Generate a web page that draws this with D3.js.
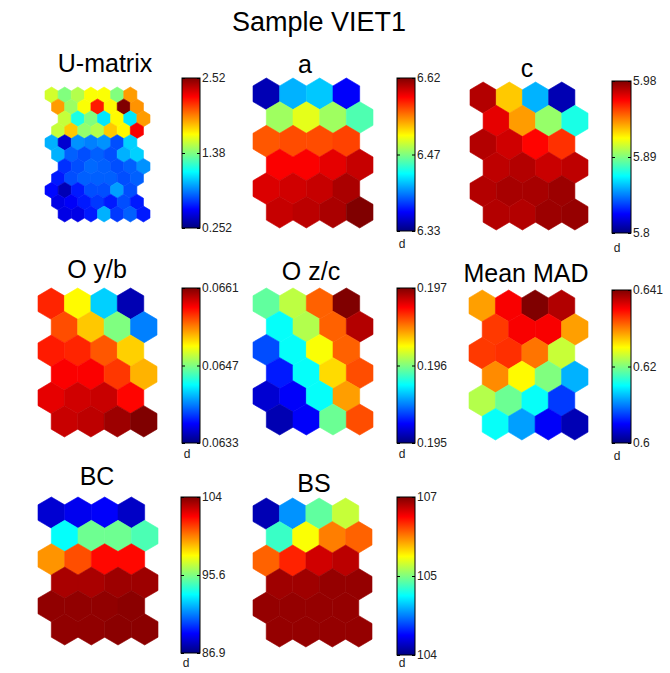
<!DOCTYPE html>
<html>
<head>
<meta charset="utf-8">
<script src="https://d3js.org/d3.v7.min.js"></script>
<style>
body { margin: 0; background: #fff; }
svg { font-family: Arial, "Liberation Sans", sans-serif; }
</style>
</head>
<body>
<svg id="chart" width="670" height="673"></svg>
<script>
var mainTitle = "Sample VIET1";
var titles = ["U-matrix", "a", "c", "O y/b", "O z/c", "Mean MAD", "BC", "BS"];

// U-matrix: 11 rows x 7 columns (hexaU lattice)
var uMatrix = [
  [1.57, 1.39, 1.50, 1.66, 1.66, 1.39, 1.89],
  [1.89, 1.45, 1.66, 2.18, 1.68, 2.52, 1.91],
  [1.54, 1.16, 1.39, 1.05, 1.68, 1.05, 1.89],
  [1.54, 1.79, 1.43, 1.50, 1.79, 1.68, 2.25],
  [0.93, 0.43, 0.86, 0.82, 0.86, 0.71, 1.00],
  [0.93, 0.75, 0.71, 0.75, 0.71, 0.93, 1.00],
  [0.64, 0.71, 0.77, 0.75, 0.71, 0.75, 0.86],
  [0.59, 0.71, 0.75, 0.75, 0.75, 0.71, 0.75],
  [0.55, 0.37, 0.59, 0.71, 0.71, 0.89, 0.71],
  [0.48, 0.52, 0.59, 0.66, 0.59, 0.71, 0.59],
  [0.48, 0.48, 0.59, 0.93, 0.66, 0.75, 0.59]
];

// component planes: 6 rows x 4 columns
var aValues = [
  [6.345, 6.417, 6.423, 6.365],
  [6.484, 6.504, 6.484, 6.461],
  [6.559, 6.562, 6.562, 6.565],
  [6.585, 6.585, 6.591, 6.600],
  [6.594, 6.597, 6.600, 6.608],
  [6.600, 6.603, 6.608, 6.620]
];
var cValues = [
  [5.971, 5.922, 5.854, 5.809],
  [5.962, 5.930, 5.894, 5.872],
  [5.971, 5.966, 5.957, 5.949],
  [5.969, 5.971, 5.967, 5.969],
  [5.971, 5.973, 5.973, 5.975],
  [5.971, 5.971, 5.975, 5.976]
];
var oybValues = [
  [0.06565, 0.06506, 0.06422, 0.06344],
  [0.06554, 0.06520, 0.06470, 0.06400],
  [0.06568, 0.06565, 0.06551, 0.06518],
  [0.06576, 0.06576, 0.06560, 0.06526],
  [0.06582, 0.06588, 0.06590, 0.06574],
  [0.06590, 0.06593, 0.06602, 0.06610]
];
var ozcValues = [
  [0.19594, 0.19612, 0.19656, 0.19700],
  [0.19576, 0.19610, 0.19656, 0.19690],
  [0.19540, 0.19576, 0.19624, 0.19656],
  [0.19530, 0.19576, 0.19632, 0.19660],
  [0.19516, 0.19524, 0.19576, 0.19644],
  [0.19510, 0.19524, 0.19596, 0.19660]
];
var madValues = [
  [0.6295, 0.6361, 0.6410, 0.6390],
  [0.6336, 0.6361, 0.6361, 0.6295],
  [0.6336, 0.6340, 0.6312, 0.6234],
  [0.6303, 0.6258, 0.6205, 0.6123],
  [0.6226, 0.6197, 0.6156, 0.6074],
  [0.6156, 0.6115, 0.6049, 0.6021]
];
var bcValues = [
  [88.3, 88.8, 89.0, 88.1],
  [93.5, 95.3, 95.3, 94.7],
  [99.6, 100.8, 102.0, 102.0],
  [103.6, 103.6, 103.8, 103.8],
  [104.0, 104.0, 104.0, 104.1],
  [104.0, 104.0, 104.1, 104.1]
];
var bsValues = [
  [103.85, 104.48, 105.06, 105.35],
  [104.95, 105.50, 105.88, 105.96],
  [105.96, 106.14, 106.37, 106.43],
  [106.51, 106.51, 106.54, 106.54],
  [106.54, 106.54, 106.54, 106.54],
  [106.54, 106.54, 106.54, 106.54]
];

var planeValues = [uMatrix, aValues, cValues, oybValues, ozcValues, madValues, bcValues, bsValues];

// colorbar ranges [min, max] and the labels printed (bottom, middle, top)
var ranges = [[0.252, 2.52], [6.33, 6.62], [5.80, 5.98], [0.0633, 0.0661],
              [0.195, 0.197], [0.600, 0.641], [86.9, 104.3], [103.7, 106.6]];
var tickLabels = [
  ["0.252", "1.38", "2.52"], ["6.33", "6.47", "6.62"], ["5.8", "5.89", "5.98"],
  ["0.0633", "0.0647", "0.0661"], ["0.195", "0.196", "0.197"], ["0.6", "0.62", "0.641"],
  ["86.9", "95.6", "104"], ["104", "105", "107"]
];

// panel positions (grid box, colorbar box, title, "d" label)
var layout = [
  {gx: 45,  gy: 87,  gw: 105, gh: 135, cx: 182, cy: 78,  cw: 18, ch: 150, tx: 105, ty: 72,  dy: null},
  {gx: 253, gy: 78,  gw: 120, gh: 150, cx: 397, cy: 78,  cw: 18, ch: 153, tx: 305, ty: 73,  dy: 248},
  {gx: 470, gy: 82,  gw: 118, gh: 148, cx: 612, cy: 81,  cw: 19, ch: 152, tx: 527, ty: 77,  dy: 252},
  {gx: 38,  gy: 288, gw: 119, gh: 149, cx: 182, cy: 288, cw: 18, ch: 155, tx: 97,  ty: 278, dy: 458},
  {gx: 253, gy: 288, gw: 120, gh: 147, cx: 397, cy: 288, cw: 18, ch: 155, tx: 311, ty: 280, dy: 458},
  {gx: 469, gy: 290, gw: 119, gh: 150, cx: 612, cy: 290, cw: 19, ch: 153, tx: 526, ty: 282, dy: 460},
  {gx: 38,  gy: 497, gw: 120, gh: 148, cx: 181, cy: 497, cw: 19, ch: 156, tx: 97,  ty: 485, dy: 667},
  {gx: 253, gy: 498, gw: 119, gh: 149, cx: 397, cy: 497, cw: 18, ch: 158, tx: 314, ty: 492, dy: 667}
];

// matlab jet colormap
function jet(t) {
  var r = Math.max(0, Math.min(1, 1.5 - Math.abs(4 * t - 3)));
  var g = Math.max(0, Math.min(1, 1.5 - Math.abs(4 * t - 2)));
  var b = Math.max(0, Math.min(1, 1.5 - Math.abs(4 * t - 1)));
  return d3.rgb(r * 255, g * 255, b * 255) + "";
}

var svg = d3.select("#chart");
var defs = svg.append("defs");

svg.append("text")
  .attr("x", 319)
  .attr("y", 31)
  .attr("text-anchor", "middle")
  .style("font-size", "27px")
  .attr("fill", "#000")
  .text(mainTitle);

var hexR = 1 / Math.sqrt(3);
var rowH = Math.sqrt(0.75);
var hexPts = [[0, -hexR], [0.5, -hexR / 2], [0.5, hexR / 2], [0, hexR], [-0.5, hexR / 2], [-0.5, -hexR / 2]];

planeValues.forEach(function(vals, p) {
  var L = layout[p];
  var isU = (p === 0);
  var nRows = vals.length, nCols = vals[0].length;
  var lo = ranges[p][0], hi = ranges[p][1];

  // row shift: normal hexa lattice, or the U-matrix lattice
  var shift = function(r) { return isU ? [0, 0.5, 1, 0.5][r % 4] : (r % 2) * 0.5; };
  var xMax = nCols - 0.5 + (isU ? 1 : 0.5);

  var x = d3.scaleLinear().domain([-0.5, xMax]).range([L.gx, L.gx + L.gw]);
  var y = d3.scaleLinear().domain([-hexR, (nRows - 1) * rowH + hexR]).range([L.gy, L.gy + L.gh]);
  var color = d3.scaleSequential(jet).domain([lo, hi]);

  var cells = [];
  vals.forEach(function(row, r) {
    row.forEach(function(v, c) { cells.push({r: r, c: c, v: v}); });
  });

  var g = svg.append("g");
  g.selectAll("polygon")
    .data(cells)
    .enter()
    .append("polygon")
    .attr("points", function(d) {
      var cx0 = d.c + shift(d.r), cy0 = d.r * rowH;
      return hexPts.map(function(q) { return x(cx0 + q[0]) + "," + y(cy0 + q[1]); }).join(" ");
    })
    .attr("fill", function(d) { return color(d.v); })
    .attr("stroke", function(d) { return color(d.v); })
    .attr("stroke-width", 0.6);

  // title
  svg.append("text")
    .attr("x", L.tx)
    .attr("y", L.ty)
    .attr("text-anchor", "middle")
    .style("font-size", "25px")
    .attr("fill", "#000")
    .text(titles[p]);

  // colorbar
  var gid = "grad" + p;
  var grad = defs.append("linearGradient")
    .attr("id", gid)
    .attr("x1", 0).attr("y1", 1).attr("x2", 0).attr("y2", 0);
  d3.range(0, 1.0001, 1 / 64).forEach(function(t) {
    grad.append("stop").attr("offset", t).attr("stop-color", jet(t));
  });

  svg.append("rect")
    .attr("x", L.cx)
    .attr("y", L.cy)
    .attr("width", L.cw)
    .attr("height", L.ch)
    .attr("fill", "url(#" + gid + ")")
    .attr("stroke", "#000")
    .attr("stroke-width", 1);

  var cy = d3.scaleLinear().domain([lo, hi]).range([L.cy + L.ch, L.cy]);
  var tv = [lo, (lo + hi) / 2, hi];

  var axR = svg.append("g")
    .attr("transform", "translate(" + (L.cx + L.cw) + ",0)")
    .call(d3.axisRight(cy).tickValues(tv).tickSize(-3).tickPadding(2)
      .tickFormat(function(d, i) { return tickLabels[p][i]; }));
  axR.select(".domain").remove();
  axR.selectAll("text").style("font-size", "12px").style("font-family", "Arial, 'Liberation Sans', sans-serif").attr("fill", "#222");
  axR.selectAll("line").attr("stroke", "#000");

  var axL = svg.append("g")
    .attr("transform", "translate(" + L.cx + ",0)")
    .call(d3.axisLeft(cy).tickValues(tv).tickSize(-3).tickFormat(""));
  axL.select(".domain").remove();

  if (L.dy) {
    svg.append("text")
      .attr("x", L.cx + 5)
      .attr("y", L.dy)
      .attr("text-anchor", "middle")
      .style("font-size", "12px")
      .attr("fill", "#222")
      .text("d");
  }
});
</script>
</body>
</html>
